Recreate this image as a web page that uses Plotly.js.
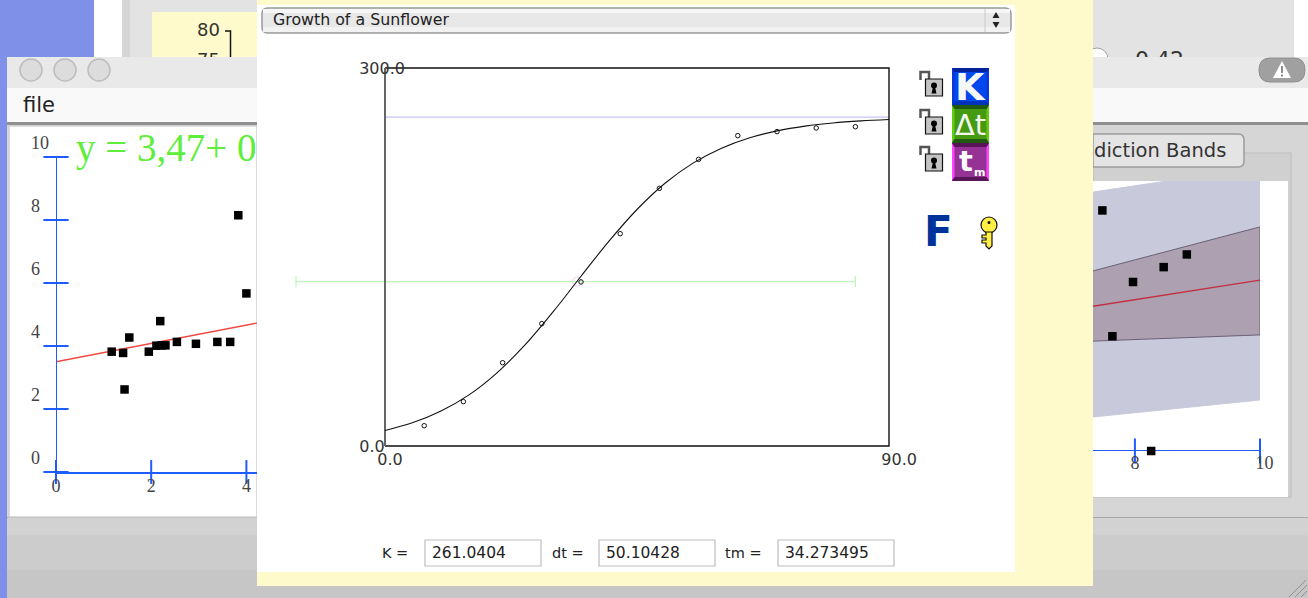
<!DOCTYPE html>
<html>
<head>
<meta charset="utf-8">
<script src="https://cdn.plot.ly/plotly-3.0.1.min.js"></script>
<style>html,body{margin:0;padding:0;background:#fff;overflow:hidden}</style>
</head>
<body>
<div id="chart" style="width:1308px;height:598px"></div>
<script>
// ---- Growth of a Sunflower (centre panel) ----
const sunflowerDays = [7, 14, 21, 28, 35, 42, 49, 56, 63, 70, 77, 84];
const sunflowerHeights = [16.1, 35.2, 66.1, 97.1, 130.2, 168.5, 204.5, 227.5, 246.3, 249.5, 252.4, 253.4];
const fitDays = [0, 5, 10, 15, 20, 25, 30, 35, 40, 45, 50, 55, 60, 65, 70, 75, 80, 85, 90];
const fitHeights = [12.3, 18.6, 27.8, 40.6, 58.1, 80.2, 106.4, 134.7, 162.6, 187.7, 208.5, 224.5, 236.2, 244.5, 250.1, 253.9, 256.4, 258, 259.1];
const kLevelX = [0, 90];
const kLevelY = [261, 261];
const dtSpanX = [-15.9, 84.0];
const dtSpanY = [130.5, 130.5];
const midPointX = [34.3];
const midPointY = [130.5];
const frameX = [0, 90, 90, 0];
const frameY = [300, 300, 0, 0];
const leftEdgeX = [0, 0];
const leftEdgeY = [0, 300];
const mainXTicks = [0, 90];
const mainXLabels = ['0.0', '\u00a0\u00a090.0'];
const mainYTicks = [0, 300];
const mainYLabels = ['0.0\u00a0\u00a0\u00a0\u00a0', '300.0'];
const paramLabels = ['K =', 'dt =', 'tm ='];
const paramValues = ['261.0404', '50.10428', '34.273495'];

// ---- Regression scatter, left window ----
const leftX = [1.17, 1.41, 1.44, 1.54, 1.95, 2.11, 2.19, 2.22, 2.30, 2.54, 2.94, 3.39, 3.66, 3.83, 4.0];
const leftY = [3.82, 3.78, 2.62, 4.27, 3.82, 4.01, 4.79, 4.02, 4.02, 4.13, 4.07, 4.13, 4.13, 8.15, 5.67];
const leftFitX = [0, 4.23];
const leftFitY = [3.5, 4.73];
const leftXTicks = [0, 2, 4];
const leftYTicks = [0, 2, 4, 6, 8, 10];
const leftYLabels = ['0\u00a0\u00a0', '2\u00a0\u00a0', '4\u00a0\u00a0', '6\u00a0\u00a0', '8\u00a0\u00a0', '10'];

// ---- Prediction-band scatter, right window ----
const rightX = [7.48, 7.64, 7.97, 8.26, 8.46, 8.83];
const rightY = [8.91, 4.25, 6.26, 0, 6.81, 7.28];
const rightFitX = [7.33, 10];
const rightFitY = [5.36, 6.33];
const predBandX = [7.33, 8.51, 10, 10, 7.33];
const predBandY = [9.59, 10, 10, 1.89, 1.26];
const confBandX = [7.33, 10, 10, 7.33];
const confBandY = [6.67, 8.30, 4.30, 4.07];
const rightXTicks = [8, 10];
const rightXLabels = ['8', '\u00a0\u00a010'];
const rightAxisY = [0, 0];
const rightAxisX = [7.33, 10];

// ---- Window behind ----
const behindLabels = ['80', '75', '0.42'];
const behindLabelX = [220, 220, 1184];
const behindLabelY = [31, 61, 61];
const behindSizes = [18, 18, 22];

const W = 1308, H = 598;
const X = p => p / W, Y = p => 1 - p / H;
const serif = 'Liberation Serif, serif';
const sans = 'DejaVu Sans, sans-serif';
const BLUE = '#1f5cff';

const shapes = [];
const rect = (x0, y0, x1, y1, fill, line, lw) => shapes.push({
  type: 'rect', xref: 'paper', yref: 'paper', layer: 'below',
  x0: X(x0), x1: X(x1), y0: Y(y0), y1: Y(y1), fillcolor: fill,
  line: {color: line || 'rgba(0,0,0,0)', width: line ? (lw || 1) : 0}
});
const ell = (x0, y0, x1, y1, fill, line, lw) => shapes.push({
  type: 'circle', xref: 'paper', yref: 'paper', layer: 'below',
  x0: X(x0), x1: X(x1), y0: Y(y0), y1: Y(y1), fillcolor: fill,
  line: {color: line || 'rgba(0,0,0,0)', width: line ? (lw || 1) : 0}
});
const poly = (pts, fill, line, lw) => shapes.push({
  type: 'path', xref: 'paper', yref: 'paper', layer: 'below',
  path: 'M' + pts.map(p => X(p[0]) + ',' + Y(p[1])).join(' L') + (fill ? ' Z' : ''),
  fillcolor: fill || 'rgba(0,0,0,0)',
  line: {color: line || 'rgba(0,0,0,0)', width: line ? (lw || 1) : 0}
});

// backdrop
rect(0, 0, 94, 598, '#7f90e8');
rect(94, 0, 122, 57, '#ffffff');
rect(122, 0, 1294, 57, '#e3e3e3');
rect(122, 0, 130, 57, '#d6d6d6');
rect(1294, 0, 1308, 57, '#ffffff');
rect(152, 12, 257, 57, '#fefacb');
ell(1086, 48, 1108, 70, '#ffffff', '#a0a0a0');

// front window
rect(7, 57, 1308, 598, '#cdcdcd');
rect(7, 57, 1308, 88, '#e9e9e9');
rect(7, 88, 1308, 122, '#f9f9f9');
rect(7, 122, 1308, 125, '#8f8f8f');
rect(7, 125, 1308, 517, '#d6d6d6');
rect(7, 517, 1308, 518, '#a8a8a8');
rect(7, 518, 1308, 535, '#d2d2d2');
rect(7, 535, 1308, 570, '#cccccc');
rect(7, 570, 1308, 598, '#c6c6c6');
[31, 65, 99].forEach(c => ell(c - 11, 59, c + 11, 81, '#dcdcdc', '#bdbdbd', 1.5));
rect(9, 126, 257, 517, '#ffffff', '#cfcfcf', 1.5);
// warning pill
shapes.push({type: 'path', xref: 'paper', yref: 'paper', layer: 'below', fillcolor: '#a0a0a0',
  line: {color: '#8e8e8e', width: 1},
  path: `M${X(1270)},${Y(58)} L${X(1294)},${Y(58)} Q${X(1305)},${Y(58)} ${X(1305)},${Y(70)} Q${X(1305)},${Y(82)} ${X(1294)},${Y(82)} L${X(1270)},${Y(82)} Q${X(1259)},${Y(82)} ${X(1259)},${Y(70)} Q${X(1259)},${Y(58)} ${X(1270)},${Y(58)} Z`});
poly([[1282, 61], [1273, 78], [1291, 78]], '#ffffff');
rect(1281, 66, 1283, 73, '#8e8e8e');
rect(1281, 74.5, 1283, 76.5, '#8e8e8e');
// right tab pane
rect(1093, 153, 1291, 497, '#d0d0d0', '#bcbcbc');
rect(1093, 181, 1288, 497, '#ffffff');
shapes.push({type: 'path', xref: 'paper', yref: 'paper', layer: 'below', fillcolor: '#e4e4e4',
  line: {color: '#9c9c9c', width: 1.5},
  path: `M${X(1093)},${Y(134)} L${X(1238)},${Y(134)} Q${X(1244)},${Y(134)} ${X(1244)},${Y(140)} L${X(1244)},${Y(161)} Q${X(1244)},${Y(167)} ${X(1238)},${Y(167)} L${X(1093)},${Y(167)} Z`});
// resize grip
[[1289, 597, 1306, 580], [1295, 597, 1307, 585], [1301, 597, 1307, 591]].forEach(g =>
  poly([[g[0], g[1]], [g[2], g[3]]], null, '#8f8f8f', 1));

// centre panel
rect(257, 0, 1093, 586, '#fefacb');
rect(257, 5, 1015, 572, '#ffffff');
// dropdown
shapes.push({type: 'path', xref: 'paper', yref: 'paper', layer: 'below', fillcolor: '#e8e8e8',
  line: {color: '#9a9a9a', width: 1.5},
  path: `M${X(268)},${Y(8)} L${X(1005)},${Y(8)} Q${X(1011)},${Y(8)} ${X(1011)},${Y(14)} L${X(1011)},${Y(27)} Q${X(1011)},${Y(33)} ${X(1005)},${Y(33)} L${X(268)},${Y(33)} Q${X(262)},${Y(33)} ${X(262)},${Y(27)} L${X(262)},${Y(14)} Q${X(262)},${Y(8)} ${X(268)},${Y(8)} Z`});
rect(263, 9, 1010, 13, '#f6f6f6');
rect(263, 27, 1010, 32, '#f2f2f2');
poly([[985, 9], [985, 32]], null, '#c8c8c8', 1);
poly([[996, 12], [992.5, 18], [999.5, 18]], '#222222');
poly([[996, 28], [992.5, 22], [999.5, 22]], '#222222');

// lock icons
[0, 38, 75].forEach(d => {
  poly([[920.5, 80 + d], [920.5, 72 + d], [929, 72 + d], [929, 79 + d]], null, '#555555', 2.5);
  rect(925.5, 79 + d, 942.5, 96 + d, '#c4c4c4', '#111111', 1.2);
  ell(931, 82.5 + d, 937, 88.5 + d, '#000000');
  poly([[933, 87 + d], [935, 87 + d], [936.5, 93.5 + d], [931.5, 93.5 + d]], '#000000');
});
// coloured parameter buttons
const button = (y0, y1, base, side, top, bot) => {
  rect(952, y0, 989, y1, base);
  poly([[952, y0], [954.5, y0 + 4], [954.5, y1 - 4], [952, y1]], side);
  poly([[989, y0], [986.5, y0 + 4], [986.5, y1 - 4], [989, y1]], side);
  poly([[952, y0], [989, y0], [986.5, y0 + 4], [954.5, y0 + 4]], top);
  poly([[952, y1], [989, y1], [986.5, y1 - 4], [954.5, y1 - 4]], bot);
};
button(68, 105, '#0047ee', '#0a39d8', '#00229c', '#0033bb');
button(105, 143, '#449a10', '#66cc11', '#1f5a10', '#1f5a10');
button(143, 181, '#963296', '#ff44ff', '#571557', '#571557');
// key
ell(981, 217, 997, 233, '#ffee44', '#111111', 1.2);
ell(987.5, 221, 990.5, 224, '#111111');
poly([[986, 232], [992, 232], [992, 246], [989, 249], [986, 246], [986, 243], [982, 243], [982, 240], [986, 240], [986, 238], [982, 238], [982, 235], [986, 235]], '#ffee44', '#111111', 1.2);
// parameter boxes
[[425, 541], [599, 715], [778, 894]].forEach(b => {
  rect(b[0], 540, b[1], 566, '#ffffff', '#bdbdbd', 1.2);
});

// annotations
const annotations = [];
const txt = (x, y, text, size, color, family, anchor) => annotations.push({
  xref: 'paper', yref: 'paper', x: X(x), y: Y(y), text, showarrow: false,
  xanchor: anchor || 'left', yanchor: 'middle', borderpad: 0,
  font: {size, color: color || '#222222', family: family || sans}
});
txt(22, 105, 'file', 21, '#222222');
txt(75, 148, 'y = 3,47+ 0', 39, '#5fee3c', serif);
txt(272, 20, 'Growth of a Sunflower', 15.8, '#222222');
txt(1093, 150, 'diction Bands', 19.5, '#333333');
txt(970.5, 87, '<b>K</b>', 38, '#f6f8f6', sans, 'center');
txt(970.5, 125, '\u0394t', 29, '#f2f6ee', sans, 'center');
txt(965.5, 161, '<b>t</b>', 29, '#ffffff', sans, 'center');
txt(979, 172, '<b>m</b>', 11, '#ffffff', sans, 'center');
txt(938, 232, '<b>F</b>', 42, '#003399', sans, 'center');
const labelPx = [381, 551, 724];
const valuePx = [431, 605, 784];
paramLabels.forEach((t, i) => txt(labelPx[i], 553, t, 14.5, '#222222'));
paramValues.forEach((t, i) => txt(valuePx[i], 553, t, 15.5, '#222222'));

const dom = (a, b) => [X(a), X(b)];
const domY = (top, bottom) => [Y(bottom), Y(top)];

const traces = [
  // left scatter
  {x: leftFitX, y: leftFitY, mode: 'lines', line: {color: '#f0483e', width: 1.3}, xaxis: 'x2', yaxis: 'y2', name: 'fit'},
  {x: [0, 0], y: [0, 10], mode: 'lines', line: {color: BLUE, width: 2}, xaxis: 'x2', yaxis: 'y2', name: 'y axis'},
  {x: leftXTicks, y: leftXTicks.map(() => 0), mode: 'markers', cliponaxis: false,
    marker: {symbol: 'line-ns', size: 17, line: {color: BLUE, width: 2}}, xaxis: 'x2', yaxis: 'y2', name: 'x ticks'},
  {x: leftYTicks.map(() => 0), y: leftYTicks, mode: 'markers', cliponaxis: false,
    marker: {symbol: 'line-ew', size: 18, line: {color: BLUE, width: 2}}, xaxis: 'x2', yaxis: 'y2', name: 'y ticks'},
  {x: leftX, y: leftY, mode: 'markers', cliponaxis: false,
    marker: {symbol: 'square', size: 8.5, color: '#000'}, xaxis: 'x2', yaxis: 'y2', name: 'data'},
  // right scatter
  {x: predBandX, y: predBandY, mode: 'lines', fill: 'toself', fillcolor: '#c8c9db', line: {color: '#c8c9db', width: 1}, xaxis: 'x3', yaxis: 'y3', name: 'prediction band'},
  {x: confBandX, y: confBandY, mode: 'lines', fill: 'toself', fillcolor: '#ada0b0', line: {color: '#6a6078', width: 1}, xaxis: 'x3', yaxis: 'y3', name: 'confidence band'},
  {x: rightFitX, y: rightFitY, mode: 'lines', line: {color: '#c23040', width: 1.3}, xaxis: 'x3', yaxis: 'y3', name: 'fit'},
  {x: rightAxisX, y: rightAxisY, mode: 'lines', line: {color: BLUE, width: 2}, xaxis: 'x3', yaxis: 'y3', name: 'x axis'},
  {x: rightXTicks, y: rightXTicks.map(() => 0), mode: 'markers', cliponaxis: false,
    marker: {symbol: 'line-ns', size: 18, line: {color: BLUE, width: 2}}, xaxis: 'x3', yaxis: 'y3', name: 'x ticks'},
  {x: rightX, y: rightY, mode: 'markers', cliponaxis: false,
    marker: {symbol: 'square', size: 8.5, color: '#000'}, xaxis: 'x3', yaxis: 'y3', name: 'data'},
  // window behind
  {x: behindLabelX, y: behindLabelY, text: behindLabels, mode: 'text', textposition: 'middle left',
    textfont: {family: sans, size: behindSizes, color: '#333'}, xaxis: 'x4', yaxis: 'y4', name: 'behind labels'},
  {x: [225, 230.5, 230.5], y: [31, 31, 57], mode: 'lines', line: {color: '#111', width: 1.5}, xaxis: 'x4', yaxis: 'y4', name: 'behind axis'},
  // main chart
  {x: kLevelX, y: kLevelY, mode: 'lines', line: {color: '#c4c4f4', width: 1.2}, name: 'K'},
  {x: dtSpanX, y: dtSpanY, mode: 'lines+markers', line: {color: '#bdf5bd', width: 1.2},
    marker: {symbol: 'line-ns', size: 8, color: '#bdf5bd', line: {color: '#bdf5bd', width: 1.2}}, name: 'dt'},
  {x: midPointX, y: midPointY, mode: 'markers', marker: {symbol: 'circle-open', size: 9, color: '#f3c8f3', line: {color: '#f3c8f3', width: 1}}, name: 'tm'},
  {x: frameX, y: frameY, mode: 'lines', line: {color: '#111', width: 1.4}, name: 'frame'},
  {x: leftEdgeX, y: leftEdgeY, mode: 'lines', line: {color: '#666', width: 2}, name: 'left edge'},
  {x: fitDays, y: fitHeights, mode: 'lines', line: {color: '#111', width: 1.1, shape: 'spline'}, name: 'logistic fit'},
  {x: sunflowerDays, y: sunflowerHeights, mode: 'markers',
    marker: {symbol: 'circle-open', size: 4.5, color: '#111', line: {color: '#111', width: 1}}, name: 'height'}
];

const hidden = {visible: false, fixedrange: true};
const layout = {
  width: W, height: H, autosize: false,
  margin: {l: 0, r: 0, t: 0, b: 0, pad: 0},
  paper_bgcolor: 'rgba(0,0,0,0)', plot_bgcolor: 'rgba(0,0,0,0)',
  showlegend: false, hovermode: false,
  shapes, annotations,
  // main: 5.6 px per day, 1.26 px per unit height
  xaxis: {domain: dom(290, 891), range: [-16.964, 90.357], showgrid: false, zeroline: false, showline: false,
    tickmode: 'array', tickvals: mainXTicks, ticktext: mainXLabels, ticks: '', ticklabelshift: 5,
    tickfont: {family: sans, size: 16, color: '#333'}, anchor: 'y'},
  yaxis: {domain: domY(66, 448), range: [-1.587, 301.587], showgrid: false, zeroline: false, showline: false,
    tickmode: 'array', tickvals: mainYTicks, ticktext: mainYLabels, ticks: '', anchor: 'free', position: X(385),
    ticklabelstandoff: -20, tickfont: {family: sans, size: 16, color: '#333'}},
  // left window
  xaxis2: {domain: dom(56, 257), range: [0, 4.223], showgrid: false, zeroline: false, showline: true, linecolor: BLUE, linewidth: 2,
    tickmode: 'array', tickvals: leftXTicks, ticktext: leftXTicks.map(String), ticks: '', ticklabelstandoff: -4,
    tickfont: {family: serif, size: 18, color: '#444'}, anchor: 'y2'},
  yaxis2: {domain: domY(157, 472), range: [0, 10], showgrid: false, zeroline: false, showline: false,
    tickmode: 'array', tickvals: leftYTicks, ticktext: leftYLabels, ticks: '', ticklabelstandoff: 6, ticklabelshift: -14,
    tickfont: {family: serif, size: 18, color: '#444'}, anchor: 'x2'},
  // right window
  xaxis3: {domain: dom(1093, 1260), range: [7.33, 10], showgrid: false, zeroline: false, showline: false,
    tickmode: 'array', tickvals: rightXTicks, ticktext: rightXLabels, ticks: '', ticklabelstandoff: -1,
    tickfont: {family: serif, size: 18, color: '#444'}, anchor: 'y3'},
  yaxis3: {domain: domY(181, 451), range: [0, 10], ...hidden, anchor: 'x3'},
  // window behind (pixel-like scale, clipped at the front window's top edge)
  xaxis4: {domain: dom(122, 1294), range: [122, 1294], ...hidden, anchor: 'y4'},
  yaxis4: {domain: domY(0, 57), range: [57, 0], ...hidden, anchor: 'x4'}
};
Plotly.newPlot('chart', traces, layout, {displayModeBar: false, staticPlot: true});
</script>
</body>
</html>
